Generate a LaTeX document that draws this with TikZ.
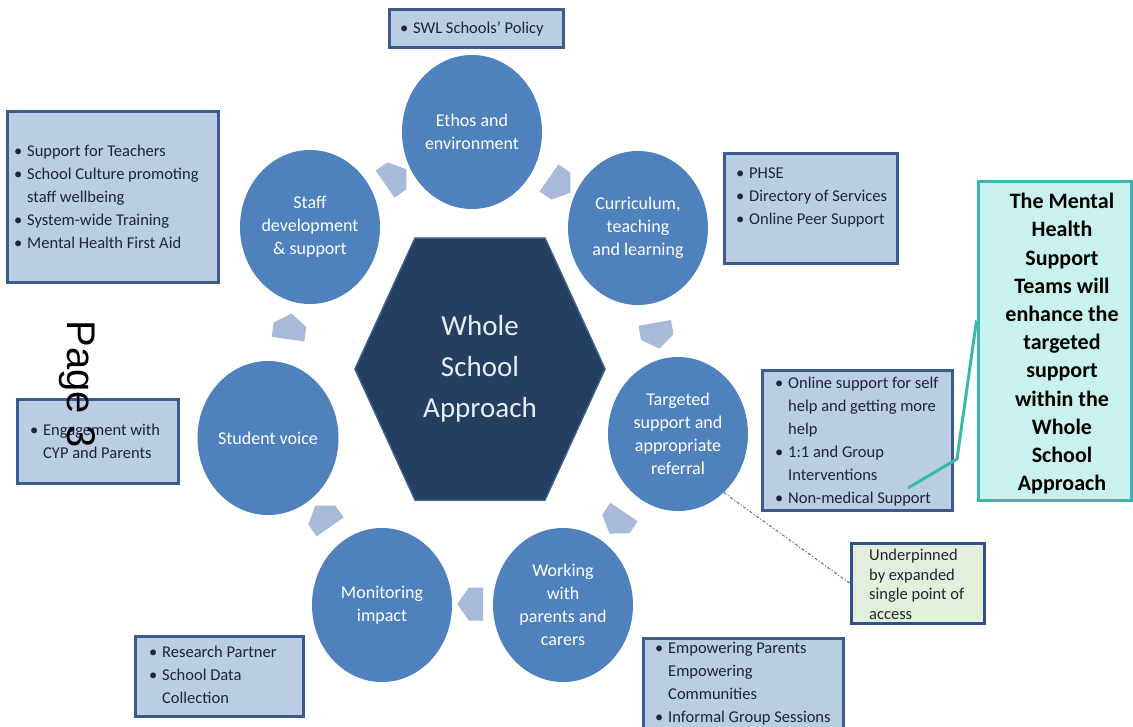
\documentclass[tikz,border=0pt]{standalone}
\usepackage{fontspec}
\setmainfont{Carlito}
\newfontfamily\pagefont{Liberation Sans}
\usetikzlibrary{shapes.geometric,shapes.symbols}

% bullet and hanging indent for the list panels
\newcommand\blt{\makebox[13pt][l]{\textbullet}}
\newcommand\indt{\hspace*{13pt}}

\begin{document}
\begin{tikzpicture}[
    x=1pt, y=-1pt,
    stage/.style={ellipse, fill=stagefill, minimum width=140pt, minimum height=154pt,
      inner sep=0pt, text=white, align=center, font=\fontsize{18}{23}\selectfont},
    flow/.style={signal, signal to=east, signal pointer angle=110, fill=flowfill,
      minimum width=26pt, minimum height=33pt, inner sep=0pt},
    hubshape/.style={fill=hubfill, draw=hubline, line width=1.5pt},
    hubtext/.style={text=hubtextc, align=center, inner sep=0pt,
      font=\fontsize{29}{41}\selectfont},
    panel/.style={rectangle, draw=panelline, line width=3pt, fill=panelfill, inner sep=0pt},
    item/.style={anchor=north west, inner sep=0pt, text=ink, align=left,
      font=\fontsize{16.5}{23}\selectfont},
    mhstbox/.style={rectangle, draw=mhstline, line width=3pt, fill=mhstfill, inner sep=0pt},
    mhstlink/.style={draw=mhstline, line width=3pt},
    spabox/.style={rectangle, draw=spaline, line width=3pt, fill=spafill, inner sep=0pt},
    spalink/.style={draw=linkblue, line width=1pt, dash dot}
]
\definecolor{stagefill}{HTML}{4F81BD}
\definecolor{hubfill}{HTML}{243F60}
\definecolor{hubline}{HTML}{3B5F8E}
\definecolor{hubtextc}{HTML}{E8EDF4}
\definecolor{flowfill}{HTML}{A9B9D9}
\definecolor{panelfill}{HTML}{B9CDE5}
\definecolor{panelline}{HTML}{3A5B8C}
\definecolor{ink}{HTML}{1E2535}
\definecolor{mhstfill}{HTML}{C9F1EE}
\definecolor{mhstline}{HTML}{3BB8AC}
\definecolor{spafill}{HTML}{E3EFDA}
\definecolor{spaline}{HTML}{2F528F}
\definecolor{linkblue}{HTML}{4472C4}

\useasboundingbox (0,0) rectangle (1133,726);
\clip (0,0) rectangle (1133,726);
\fill[white] (0,0) rectangle (1133,726);

% ring of stages
\node[stage] (ethos) at (472,132) {Ethos and\\environment};
\node[stage] (curric) at (638,228) {Curriculum,\\teaching\\and learning};
\node[stage] (target) at (678,434) {Targeted\\support and\\appropriate\\referral};
\node[stage] (parents) at (563,605) {Working\\with\\parents and\\carers};
\node[stage] (monitor) at (382,605) {Monitoring\\impact};
\node[stage] (voice) at (268,438) {Student voice};
\node[stage] (staff) at (310,227) {Staff\\development\\\& support};

% chevrons between the stages, clockwise
\foreach \x/\y/\ang [count=\k] in {391/180/35, 555/182/-35, 656/330/-80,
    620/518/-124, 476/604/180, 326/521/125, 289/332/82}
  \node[flow, rotate=\ang] (flow\k) at (\x,\y) {};

% centre hexagon
\draw[hubshape] (355,369) -- (415,238) -- (545,238) -- (605,369)
  -- (545,500) -- (415,500) -- cycle;
\node[hubtext] (hub) at (480,369) {Whole\\School\\Approach};

% list panels
\node[panel, minimum width=174pt, minimum height=38pt] (swlbox) at (476,28) {};
\node[item] (swltext) at (400,22) {\blt SWL Schools' Policy};

\node[panel, minimum width=211pt, minimum height=171pt] (staffbox) at (112.5,196.5) {};
\node[item] (stafftext) at (14,145) {\blt Support for Teachers\\
  \blt School Culture promoting\\ \indt staff wellbeing\\
  \blt System-wide Training\\ \blt Mental Health First Aid};

\node[panel, minimum width=173pt, minimum height=110pt] (curbox) at (810.5,208) {};
\node[item] (curtext) at (736,168) {\blt PHSE\\ \blt Directory of Services\\
  \blt Online Peer Support};

\node[panel, minimum width=190pt, minimum height=140pt] (tgtbox) at (857,440) {};
\node[item] (tgttext) at (775,377) {\blt Online support for self\\
  \indt help and getting more\\ \indt help\\ \blt 1:1 and Group\\
  \indt Interventions\\ \blt Non-medical Support};

\node[panel, minimum width=161pt, minimum height=84pt] (cypbox) at (97.5,441) {};
\node[item] (cyptext) at (30,424) {\blt Engagement with\\ \indt CYP and Parents};

\node[panel, minimum width=168pt, minimum height=80pt] (monbox) at (219,676) {};
\node[item] (montext) at (149,646) {\blt Research Partner\\ \blt School Data\\
  \indt Collection};

\node[panel, minimum width=200pt, minimum height=98pt] (parbox) at (743,687) {};
\node[item] (partext) at (655,642) {\blt Empowering Parents\\ \indt Empowering\\
  \indt Communities\\ \blt Informal Group Sessions};

% side notes
\node[spabox, minimum width=133pt, minimum height=80pt] (spa) at (917.5,583) {};
\node[item, font=\fontsize{16.5}{19.5}\selectfont] (spatext) at (869,549)
  {Underpinned\\ by expanded\\ single point of\\ access};

\node[mhstbox, minimum width=153pt, minimum height=319pt] (mhst) at (1054.5,340.5) {};
\node[anchor=north, inner sep=0pt, align=center, text=black,
  font=\fontsize{22}{28.2}\selectfont\bfseries] (mhsttext) at (1062,193)
  {The Mental\\ Health\\ Support\\ Teams will\\ enhance the\\ targeted\\
   support\\ within the\\ Whole\\ School\\ Approach};

\coordinate (mhst bend) at (957,459);
\coordinate (mhst tip) at (908,488);
\draw[mhstlink] ([yshift=20pt]mhst.west) -- (mhst bend) -- (mhst tip);
\draw[spalink] (target.-52) -- (spa.west);

% page number
\node[rotate=-90, inner sep=0pt, font=\pagefont\fontsize{40}{40}\selectfont]
  (pageno) at (77,384) {Page 3};
\end{tikzpicture}
\end{document}
